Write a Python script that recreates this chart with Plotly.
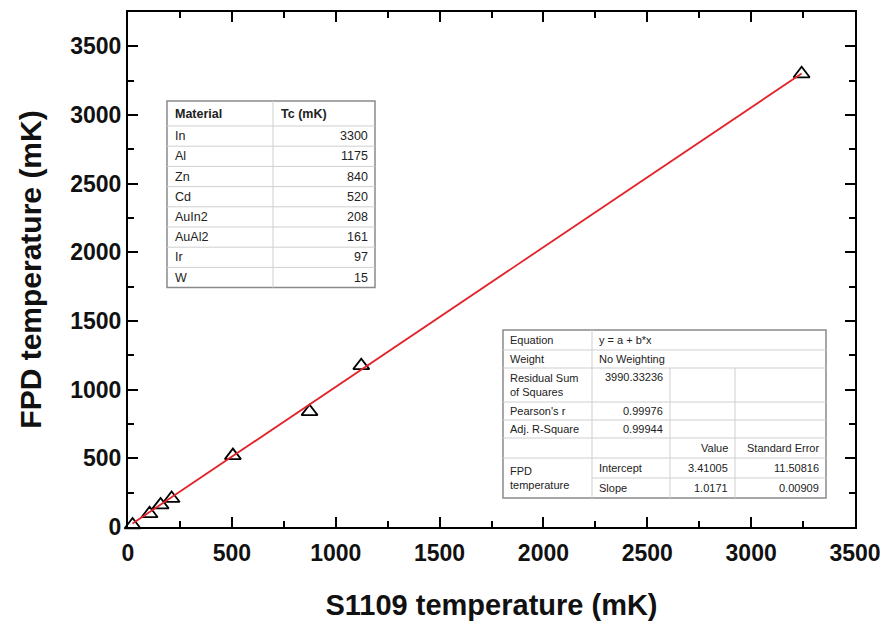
import numpy as np
import plotly.graph_objects as go

# ---------------- data ----------------
materials = ["In", "Al", "Zn", "Cd", "AuIn2", "AuAl2", "Ir", "W"]
tc_mk = [3300, 1175, 840, 520, 208, 161, 97, 15]
s1109_mk = [3243, 1123, 874, 505, 210, 157, 104, 22]
fpd_mk = [3300, 1175, 840, 520, 208, 161, 97, 15]

fit_intercept = 3.41005
fit_slope = 1.0171

stats_labels = ["Equation", "Weight", "Residual Sum<br>of Squares", "Pearson's r", "Adj. R-Square"]
stats_values = ["y = a + b*x", "No Weighting", "3990.33236", "0.99976", "0.99944"]
param_header = ["Value", "Standard Error"]
param_names = ["Intercept", "Slope"]
param_values = ["3.41005", "1.0171"]
param_errors = ["11.50816", "0.00909"]
series_name = "FPD<br>temperature"

x_ticks = [0, 500, 1000, 1500, 2000, 2500, 3000, 3500]
y_ticks = [0, 500, 1000, 1500, 2000, 2500, 3000, 3500]

# ---------------- figure ----------------
W, H = 889, 624
ML, MR, MT, MB = 128, 34, 12, 97
PW, PH = W - ML - MR, H - MT - MB


def px(x):
    return (x - ML) / PW


def py(y):
    return (H - MB - y) / PH


fig = go.Figure()
fig.add_trace(go.Scatter(
    x=s1109_mk, y=fpd_mk, mode="markers",
    marker=dict(symbol="triangle-up-open", size=14, color="black", line=dict(width=1.8, color="black")),
    cliponaxis=False, hoverinfo="x+y"))

fx = np.array([min(s1109_mk), max(s1109_mk)])
fy = fit_intercept + fit_slope * fx
fig.add_trace(go.Scatter(x=fx, y=fy, mode="lines", line=dict(color="#e3232b", width=1.8)))

shapes = []
annots = []
FONT = "Liberation Sans, Arial, sans-serif"


def hline(x0, x1, y, color, w=1):
    shapes.append(dict(type="line", xref="paper", yref="paper", x0=px(x0), x1=px(x1), y0=py(y), y1=py(y),
                       line=dict(color=color, width=w), layer="above"))


def vline(x, y0, y1, color, w=1):
    shapes.append(dict(type="line", xref="paper", yref="paper", x0=px(x), x1=px(x), y0=py(y0), y1=py(y1),
                       line=dict(color=color, width=w), layer="above"))


def box(x0, y0, x1, y1, color, w=1.5):
    shapes.append(dict(type="rect", xref="paper", yref="paper", x0=px(x0), x1=px(x1), y0=py(y0), y1=py(y1),
                       line=dict(color=color, width=w), fillcolor="white", layer="above"))


def text(x, y, s, anchor="left", size=12, bold=False, yanchor="middle"):
    if bold:
        s = "<b>" + s + "</b>"
    annots.append(dict(xref="paper", yref="paper", x=px(x), y=py(y), text=s, showarrow=False,
                       xanchor=anchor, yanchor=yanchor, align=anchor,
                       font=dict(family=FONT, size=size, color="#222")))


INNER = "#cfcfcf"
OUTER = "#8a8a8a"

# ---- material table ----
t1x0, t1x1, t1xm = 167, 375, 273
t1y0, t1hdr, rowh = 101, 126, 20.2
t1y1 = t1hdr + rowh * len(materials)
box(t1x0, t1y0, t1x1, t1y1, OUTER)
vline(t1xm, t1y0, t1y1, INNER)
hline(t1x0, t1x1, t1hdr, INNER)
for i in range(1, len(materials)):
    hline(t1x0, t1x1, t1hdr + rowh * i, INNER)
text(t1x0 + 6, (t1y0 + t1hdr) / 2, "Material", size=12.5, bold=True)
text(t1xm + 6, (t1y0 + t1hdr) / 2, "Tc (mK)", size=12.5, bold=True)
for i, (m, t) in enumerate(zip(materials, tc_mk)):
    yc = t1hdr + rowh * (i + 0.5)
    text(t1x0 + 6, yc, m, size=12.5)
    text(t1x1 - 5, yc, str(t), anchor="right", size=12.5)

# ---- fit table ----
c = [503, 592, 670, 735, 826]
r = [330, 350, 368, 402, 420, 438, 458, 478, 498]
box(c[0], r[0], c[-1], r[-1], OUTER)
vline(c[1], r[0], r[-1], INNER)
vline(c[2], r[2], r[-1], INNER)
vline(c[3], r[2], r[-1], INNER)
for j in range(1, len(r) - 1):
    if j == 7:
        hline(c[1], c[-1], r[j], INNER)
    else:
        hline(c[0], c[-1], r[j], INNER)
FS2 = 11
for k in range(5):
    yc = (r[k] + r[k + 1]) / 2
    if k == 2:
        text(c[0] + 5, yc, stats_labels[k], size=FS2)
        text(c[2] - 5, r[k] + 9, stats_values[k], anchor="right", size=FS2)
    elif k < 2:
        text(c[0] + 5, yc, stats_labels[k], size=FS2)
        text(c[1] + 5, yc, stats_values[k], size=FS2)
    else:
        text(c[0] + 5, yc, stats_labels[k], size=FS2)
        text(c[2] - 5, yc, stats_values[k], anchor="right", size=FS2)
yc = (r[5] + r[6]) / 2
text(c[3] - 5, yc, param_header[0], anchor="right", size=FS2)
text(c[4] - 5, yc, param_header[1], anchor="right", size=FS2)
text(c[0] + 5, (r[6] + r[8]) / 2, series_name, size=FS2)
for k in range(2):
    yc = (r[6 + k] + r[7 + k]) / 2
    text(c[1] + 5, yc, param_names[k], size=FS2)
    text(c[3] - 5, yc, param_values[k], anchor="right", size=FS2)
    text(c[4] - 5, yc, param_errors[k], anchor="right", size=FS2)

axis_common = dict(
    showline=True, linecolor="black", linewidth=2, mirror="ticks",
    ticks="inside", ticklen=10, tickwidth=2, tickcolor="black",
    showgrid=False, zeroline=False,
    tickfont=dict(family=FONT, size=23, color="#111", weight="bold"),
    minor=dict(ticks="inside", ticklen=6, tickwidth=2, tickcolor="black", dtick=250, showgrid=False),
    automargin=False,
)

fig.update_layout(
    width=W, height=H,
    margin=dict(l=ML, r=MR, t=MT, b=MB),
    paper_bgcolor="white", plot_bgcolor="white",
    showlegend=False,
    shapes=shapes, annotations=annots,
    xaxis=dict(range=[0, 3500], tickvals=x_ticks, ticktext=[str(v) for v in x_ticks],
               ticklabelstandoff=4,
               title=dict(text="<b>S1109 temperature (mK)</b>", standoff=30,
                          font=dict(family=FONT, size=29, color="#111")),
               **axis_common),
    yaxis=dict(range=[0, 3750], tickvals=y_ticks, ticktext=[str(v) for v in y_ticks],
               title=dict(text="<b>FPD temperature (mK)</b>", standoff=20,
                          font=dict(family=FONT, size=30, color="#111")),
               **axis_common),
)

fig.write_html("out.html")
